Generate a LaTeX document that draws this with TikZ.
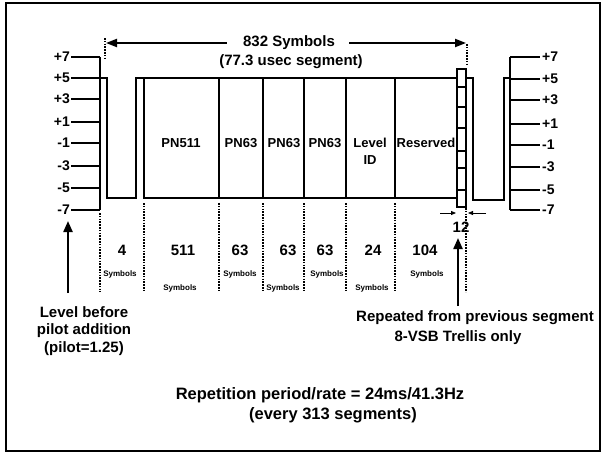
\documentclass[tikz,border=0pt]{standalone}
\usepackage{fontspec}
\setmainfont{Liberation Sans}
\usetikzlibrary{arrows.meta}
\begin{document}
\begin{tikzpicture}[x=1pt,y=-1pt,
  txt/.style={font=\bfseries\fontsize{15}{17.5}\selectfont, inner sep=0pt},
  lvl/.style={font=\bfseries\fontsize{14}{16}\selectfont, inner sep=0pt},
  boxlbl/.style={font=\bfseries\fontsize{13}{17}\selectfont, inner sep=0pt, align=center},
  sym/.style={font=\bfseries\fontsize{8}{9}\selectfont, inner sep=0pt},
  bigtxt/.style={font=\bfseries\fontsize{16.5}{20}\selectfont, inner sep=0pt},
  wave/.style={line width=1.7pt},
  tickline/.style={line width=2.2pt},
  dots/.style={line width=2.3pt, dash pattern=on 1.6pt off 1.2pt},
  bigarrow/.style={line width=2.2pt, -{Triangle[length=11pt,width=9pt]}},
  toparrow/.style={line width=2pt, -{Triangle[length=11pt,width=8pt]}},
  smallarrow/.style={line width=0.8pt, -{Triangle[length=5pt,width=4pt]}},
]
\useasboundingbox (0,0) rectangle (602,453);
% frame
\draw[line width=2.5pt] (6,3) rectangle (600,451);

% left level scale
\draw[wave] (100,57) -- (100,210);
\foreach \y/\l [count=\i] in {57/+7,78/+5,99/+3,122/+1,143/-1,166/-3,188/-5,210/-7} {
  \draw[tickline] (71,\y) -- (100,\y);
  \node[lvl,anchor=east] (ll\i) at (70,\y) {\l};
}
% right level scale
\draw[wave] (510,57) -- (510,210);
\foreach \y/\l [count=\i] in {57/+7,79/+5,100/+3,124/+1,145/-1,167/-3,190/-5,210/-7} {
  \draw[tickline] (510,\y) -- (540,\y);
  \node[lvl,anchor=west] (rl\i) at (542,\y) {\l};
}

% left waveform
\draw[wave] (100,78) -- (107,78) -- (107,198) -- (136,198) -- (136,78) -- (144,78);
% main segment box
\draw[wave] (144,78) rectangle (457,198);
\foreach \x in {219,263,304,346,395} \draw[wave] (\x,78) -- (\x,198);
% 12-symbol box
\draw[wave] (457,69) rectangle (466,207);
\foreach \y in {87,107,128,151,168,190} \draw[wave] (457,\y) -- (466,\y);
% right waveform
\draw[wave] (466,78) -- (473,78) -- (473,200) -- (504,200) -- (504,78) -- (510,78);

% box labels
\node[boxlbl] (pn511) at (181,143) {PN511};
\node[boxlbl] (pn63a) at (241,143) {PN63};
\node[boxlbl] (pn63b) at (284,143) {PN63};
\node[boxlbl] (pn63c) at (325,143) {PN63};
\node[boxlbl] (lid) at (370,151) {Level\\ID};
\node[boxlbl] (res) at (426,143) {Reserved};

% top dimension
\node[txt] (t1) at (289,43) {832 Symbols};
\node[txt] (t2) at (291,62) {(77.3 usec segment)};
\coordinate (al) at (106,43);
\coordinate (ar) at (466,43);
\draw[toparrow] ([xshift=-16pt]t1.west) -- (al);
\draw[toparrow] ([xshift=14pt]t1.east) -- (ar);
\draw[dots,line width=1.6pt] (105,38) -- (105,60);
\draw[dots,line width=1.6pt] (467,44) -- (467,64);

% dotted separators below
\foreach \x/\s in {100/213,144/203,219/203,263/203,304/203,346/203,395/203,466/208}
  \draw[dots] (\x,\s) -- (\x,292);

% counts
\node[txt] (c1) at (122,250) {4};
\node[txt] (c2) at (183,250) {511};
\node[txt] (c3) at (240,250) {63};
\node[txt] (c4) at (288,250) {63};
\node[txt] (c5) at (325,250) {63};
\node[txt] (c6) at (373,250) {24};
\node[txt] (c7) at (425,250) {104};
\node[sym] (s1) at (120,274) {Symbols};
\node[sym] (s2) at (180,288) {Symbols};
\node[sym] (s3) at (240,274) {Symbols};
\node[sym] (s4) at (283,288) {Symbols};
\node[sym] (s5) at (327,274) {Symbols};
\node[sym] (s6) at (372,288) {Symbols};
\node[sym] (s7) at (427,274) {Symbols};

% 12 marker
\node[txt] (n12) at (461,227) {12};
\coordinate (m1a) at (440,213);
\coordinate (m1b) at (456,213);
\coordinate (m2a) at (486,213);
\coordinate (m2b) at (468,213);
\draw[smallarrow] (m1a) -- (m1b);
\draw[smallarrow] (m2a) -- (m2b);

% left note
\node[txt,align=center] (lnote) at (84,331) {Level before\\pilot addition\\(pilot=1.25)};
\coordinate (la1) at (68,293);
\coordinate (la2) at (68,221);
\draw[bigarrow] (la1) -- (la2);

% right note
\node[txt] (rep1) at (475,318) {Repeated from previous segment};
\node[txt] (rep2) at (458,338) {8-VSB Trellis only};
\coordinate (ra1) at (458,306);
\coordinate (ra2) at (458,238);
\draw[bigarrow] (ra1) -- (ra2);

% bottom
\node[bigtxt] (b1) at (320,395) {Repetition period/rate = 24ms/41.3Hz};
\node[bigtxt] (b2) at (333,415) {(every 313 segments)};
\end{tikzpicture}
\end{document}
